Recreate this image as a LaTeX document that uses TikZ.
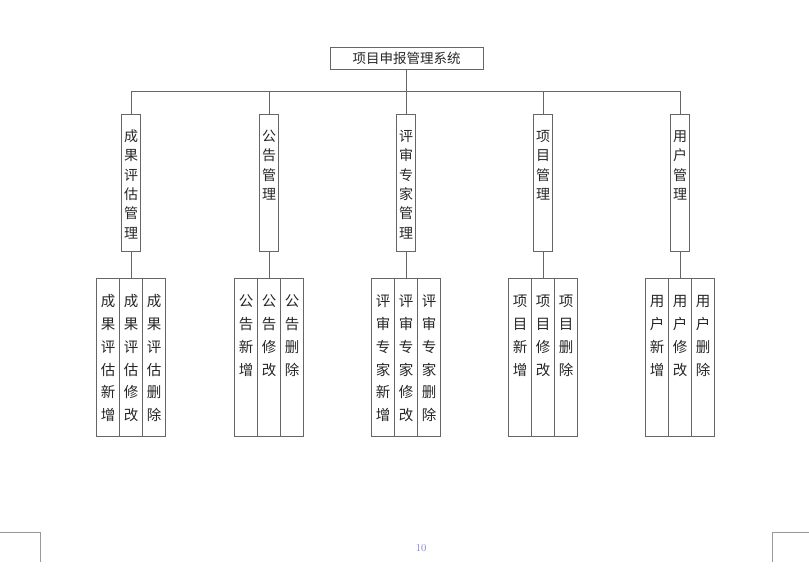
\documentclass[tikz,border=0pt]{standalone}
\usepackage{fontspec}
\newfontfamily\cjk{Noto Sans CJK SC}
\tikzset{
 box/.style={draw=black!60,line width=0.8pt,rectangle,inner sep=0pt},
 txt/.style={font=\cjk\fontsize{14}{19.4}\selectfont,align=center,inner sep=0pt,anchor=north,text=black!85},
 txtb/.style={font=\cjk\fontsize{14.5}{22.8}\selectfont,align=center,inner sep=0pt,anchor=north,text=black!85},
 ln/.style={draw=black!60,line width=0.8pt},
}
\newcommand{\vt}[1]{\begin{tabular}{@{}c@{}}#1\end{tabular}}
\begin{document}
\begin{tikzpicture}[x=1pt,y=-1pt]
\useasboundingbox (0,0) rectangle (809,580);
\node[box,minimum width=153,minimum height=22,font=\cjk\fontsize{13.5}{16}\selectfont,text=black!85] (root) at (406.5,58) {项目申报管理系统};
\coordinate (hl) at (131,91.5);
\coordinate (hr) at (680,91.5);
\coordinate (hm) at (406.5,91.5);
\draw[ln] (hl) -- (hr);
\draw[ln] (root.south) -- (hm);
\foreach \x/\n/\a/\b/\c/\d in {
 131/g1/{成\\果\\评\\估\\管\\理}/{成\\果\\评\\估\\新\\增}/{成\\果\\评\\估\\修\\改}/{成\\果\\评\\估\\删\\除},
 269/g2/{公\\告\\管\\理}/{公\\告\\新\\增}/{公\\告\\修\\改}/{公\\告\\删\\除},
 406/g3/{评\\审\\专\\家\\管\\理}/{评\\审\\专\\家\\新\\增}/{评\\审\\专\\家\\修\\改}/{评\\审\\专\\家\\删\\除},
 543/g4/{项\\目\\管\\理}/{项\\目\\新\\增}/{项\\目\\修\\改}/{项\\目\\删\\除},
 680/g5/{用\\户\\管\\理}/{用\\户\\新\\增}/{用\\户\\修\\改}/{用\\户\\删\\除}}{
 \coordinate (\n t) at (\x,91.5);
 \node[box,minimum width=18.5,minimum height=137] (\n) at (\x,182.5) {};
 \node[txt] (\n x) at ([yshift=-14]\n.north) {\vt{\a}};
 \draw[ln] (\n t) -- (\n.north);
 \node[box,minimum width=23,minimum height=158] (\n b) at (\x,357) {};
 \node[box,minimum width=23,minimum height=158] (\n a) at (\x-23,357) {};
 \node[box,minimum width=23,minimum height=158] (\n c) at (\x+23,357) {};
 \node[txtb] (\n ax) at ([yshift=-13]\n a.north) {\vt{\b}};
 \node[txtb] (\n bx) at ([yshift=-13]\n b.north) {\vt{\c}};
 \node[txtb] (\n cx) at ([yshift=-13]\n c.north) {\vt{\d}};
 \draw[ln] (\n.south) -- (\n b.north);
}
\node[font=\fontsize{10.5}{12}\selectfont,text=black!50!blue!50] (pg) at (421,548) {10};
\coordinate (c1) at (0,532); \coordinate (c2) at (40,532); \coordinate (c3) at (40,562);
\coordinate (d1) at (809,532); \coordinate (d2) at (772,532); \coordinate (d3) at (772,562);
\draw[black!40,line width=0.6pt] (c1) -- (c2) -- (c3);
\draw[black!40,line width=0.6pt] (d1) -- (d2) -- (d3);
\end{tikzpicture}
\end{document}
